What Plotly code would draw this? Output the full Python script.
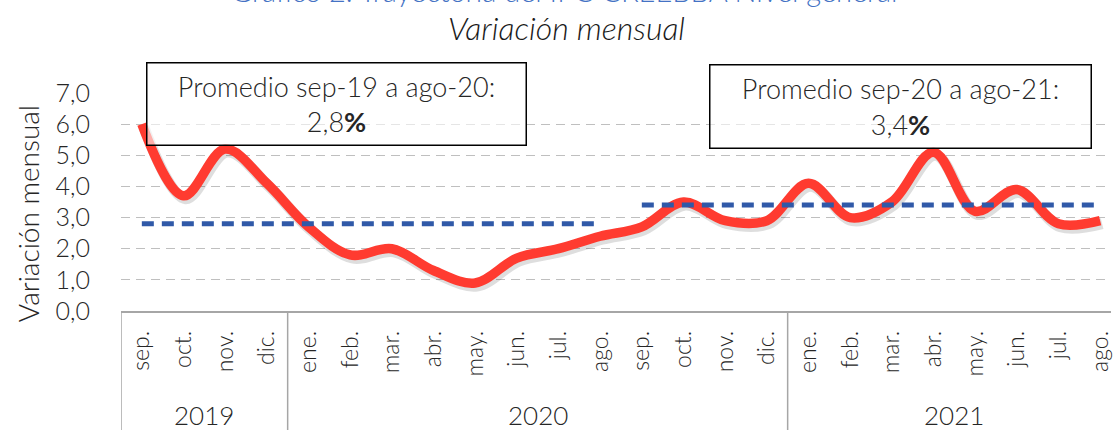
import plotly.graph_objects as go

# ---------------- data ----------------
months = ["sep.", "oct.", "nov.", "dic.",
          "ene.", "feb.", "mar.", "abr.", "may.", "jun.", "jul.", "ago.",
          "sep.", "oct.", "nov.", "dic.",
          "ene.", "feb.", "mar.", "abr.", "may.", "jun.", "jul.", "ago."]
years = ["2019"] * 4 + ["2020"] * 12 + ["2021"] * 8
values = [6.0, 3.7, 5.2, 4.1,
          2.7, 1.8, 2.0, 1.3, 0.9, 1.7, 2.0, 2.4,
          2.7, 3.5, 2.9, 2.9,
          4.1, 3.0, 3.5, 5.1, 3.2, 3.9, 2.8, 2.9]
avg_1 = 2.8   # sep-19 a ago-20
avg_2 = 3.4   # sep-20 a ago-21
label_1 = "Promedio sep-19 a ago-20:<br>2,8<b>%</b>"
label_2 = "Promedio sep-20 a ago-21:<br>3,4<b>%</b>"
title_text = "Gráfico 2. Trayectoria del IPC CREEBBA Nivel general"
subtitle_text = "<i>Variación mensual</i>"
y_title = "Variación mensual"

FONT = "Lato"
WGT = 300
RED = "#FF3B30"
BLUE = "#3059A8"
GRAY = "#A6A6A6"
TXT = "#262626"

idx = list(range(len(months)))

W, H = 1113, 430
L, T, B = 121, 93, 119
plot_w = W - L
plot_h = H - T - B
cat_px = 41.75
x_hi = -0.5 + plot_w / cat_px
y_lo, y_hi = 0, 7
# soft drop-shadow offset (pixels) for the red line
sh_dx = 2.0 / cat_px
sh_dy = 3.0 * (y_hi - y_lo) / plot_h


def px_x(px):
    return (px - L) / plot_w


def px_y(py):
    return (H - B - py) / plot_h


fig = go.Figure()

# shadow of the red line (same data, slightly shifted scale)
fig.add_trace(go.Scatter(
    x=idx, y=values, mode="lines", xaxis="x2", yaxis="y2",
    line=dict(color="rgba(0,0,0,0.13)", width=11, shape="spline", smoothing=1.0),
    showlegend=False, hoverinfo="skip"))

fig.add_trace(go.Scatter(
    x=idx, y=values, mode="lines", xaxis="x3", yaxis="y3",
    line=dict(color=RED, width=9.5, shape="spline", smoothing=1.0),
    showlegend=False, hoverinfo="skip"))

fig.add_trace(go.Scatter(
    x=idx[:12], y=[avg_1] * 12, mode="lines", xaxis="x3", yaxis="y3",
    line=dict(color=BLUE, width=5, dash="12px,8px"),
    showlegend=False, hoverinfo="skip"))

fig.add_trace(go.Scatter(
    x=idx[12:], y=[avg_2] * 12, mode="lines", xaxis="x3", yaxis="y3",
    line=dict(color=BLUE, width=5, dash="12px,8px"),
    showlegend=False, hoverinfo="skip"))

annotations = [
    dict(text=title_text, xref="paper", yref="paper", x=px_x(565), y=px_y(-10),
         xanchor="center", yanchor="middle", showarrow=False,
         font=dict(family=FONT, size=29, color="#4472C4", weight=WGT)),
    dict(text=subtitle_text, xref="paper", yref="paper", x=px_x(567), y=px_y(28),
         xanchor="center", yanchor="middle", showarrow=False,
         font=dict(family=FONT, size=32, color="#1a1a1a", weight=WGT)),
    dict(text=y_title, xref="paper", yref="paper", x=px_x(28), y=px_y(214),
         xanchor="center", yanchor="middle", showarrow=False, textangle=-90,
         font=dict(family=FONT, size=28, color=TXT, weight=WGT)),
    dict(text=label_1, xref="paper", yref="paper", x=px_x(337), y=px_y(104.5),
         xanchor="center", yanchor="middle", showarrow=False,
         width=376, height=79, borderpad=1, bordercolor="black", borderwidth=1.5,
         bgcolor="rgba(255,255,255,0.6)", align="center",
         font=dict(family=FONT, size=27, color=TXT, weight=WGT)),
    dict(text=label_2, xref="paper", yref="paper", x=px_x(902), y=px_y(106),
         xanchor="center", yanchor="middle", showarrow=False,
         width=378, height=80, borderpad=1, bordercolor="black", borderwidth=1.5,
         bgcolor="rgba(255,255,255,0.6)", align="center",
         font=dict(family=FONT, size=27, color=TXT, weight=WGT)),
]

# year group labels, centred under their months
for yr in sorted(set(years)):
    members = [i for i, y in zip(idx, years) if y == yr]
    annotations.append(dict(
        text=yr, xref="x", yref="paper", x=sum(members) / len(members), y=px_y(415),
        xanchor="center", yanchor="middle", showarrow=False,
        font=dict(family=FONT, size=26, color=TXT, weight=WGT)))

# group dividers (left edge + boundaries between years)
shapes = []
bounds = [-0.5] + [i - 0.5 for i in idx[1:] if years[i] != years[i - 1]]
for bx in bounds:
    shapes.append(dict(type="line", xref="x", yref="paper", x0=bx, x1=bx,
                       y0=0, y1=px_y(445), line=dict(color=GRAY, width=1.5)))

hidden = dict(visible=False, showgrid=False, zeroline=False, fixedrange=True)

fig.update_layout(
    width=W, height=H,
    margin=dict(l=L, r=0, t=T, b=B, pad=0),
    paper_bgcolor="white", plot_bgcolor="white",
    separators=",.",
    font=dict(family=FONT, size=20, color=TXT, weight=WGT),
    xaxis=dict(
        range=[-0.5, x_hi], tickmode="array", tickvals=idx, ticktext=months,
        tickangle=-90, tickfont=dict(family=FONT, size=23, color=TXT, weight=WGT),
        showgrid=False, showline=True, linecolor=GRAY, linewidth=1.5,
        ticks="", ticklabelstandoff=9, zeroline=False, ticklabeloverflow="allow",
    ),
    yaxis=dict(
        range=[y_lo, y_hi], dtick=1, tickformat=".1f",
        tickfont=dict(family=FONT, size=25, color=TXT, weight=WGT),
        showgrid=True, gridcolor="#BFBFBF", gridwidth=1.3, griddash="9px,6px",
        zeroline=False, showline=False, ticks="", ticklabelstandoff=30,
    ),
    xaxis2=dict(overlaying="x", range=[-0.5 - sh_dx, x_hi - sh_dx], **hidden),
    yaxis2=dict(overlaying="y", range=[y_lo + sh_dy, y_hi + sh_dy], **hidden),
    xaxis3=dict(overlaying="x", range=[-0.5, x_hi], **hidden),
    yaxis3=dict(overlaying="y", range=[y_lo, y_hi], **hidden),
    annotations=annotations,
    shapes=shapes,
)

fig.write_html("out.html", config={"displayModeBar": False},
               post_script="document.body.style.margin='0';")
